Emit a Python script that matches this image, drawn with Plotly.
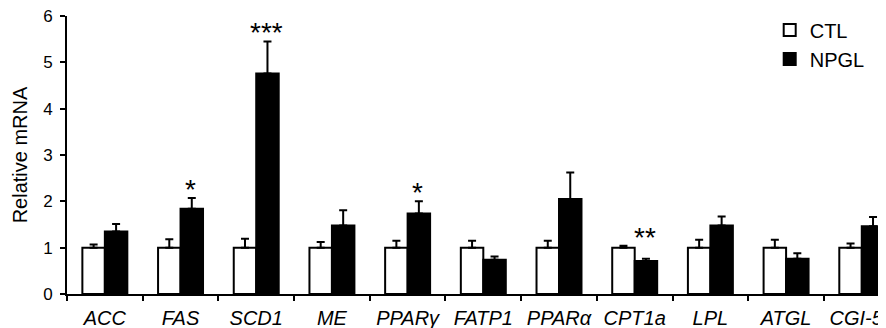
import plotly.graph_objects as go

genes = ["ACC", "FAS", "SCD1", "ME", "PPARγ", "FATP1", "PPARα", "CPT1a", "LPL", "ATGL", "CGI-58"]
ctl = [1.0, 1.0, 1.0, 1.0, 1.0, 1.0, 1.0, 1.0, 1.0, 1.0, 1.0]
ctl_err = [0.07, 0.18, 0.19, 0.12, 0.15, 0.15, 0.15, 0.04, 0.17, 0.17, 0.09]
npgl = [1.35, 1.84, 4.76, 1.48, 1.74, 0.74, 2.05, 0.71, 1.48, 0.76, 1.46]
npgl_err = [0.16, 0.23, 0.69, 0.33, 0.26, 0.07, 0.57, 0.05, 0.19, 0.12, 0.20]
stars = {"FAS": "*", "SCD1": "***", "PPARγ": "*", "CPT1a": "**"}

FONT = "Liberation Sans, Arial, sans-serif"

fig = go.Figure()
fig.add_trace(go.Bar(
    x=genes, y=ctl, name="CTL",
    marker=dict(color="white", line=dict(color="black", width=2)),
    error_y=dict(type="data", array=ctl_err, arrayminus=[0] * len(ctl),
                 symmetric=False, color="black", thickness=2, width=4),
))
fig.add_trace(go.Bar(
    x=genes, y=npgl, name="NPGL",
    marker=dict(color="black", line=dict(color="black", width=2)),
    error_y=dict(type="data", array=npgl_err, arrayminus=[0] * len(npgl),
                 symmetric=False, color="black", thickness=2, width=4),
))

for g, s in stars.items():
    i = genes.index(g)
    top = max(npgl[i] + npgl_err[i], ctl[i] + ctl_err[i])
    fig.add_annotation(x=g, y=top, text=s, showarrow=False,
                       xshift=10, yanchor="bottom", yshift=-9,
                       font=dict(family=FONT, size=28, color="black"))

# page body has an 8px default margin, so the figure is offset by (8, 8)
fig.update_layout(
    width=878, height=320,
    margin=dict(l=59, r=0, t=8, b=34, autoexpand=False),
    paper_bgcolor="white", plot_bgcolor="white",
    barmode="group", bargap=0.406, bargroupgap=0,
    font=dict(family=FONT, size=19, color="black"),
    showlegend=True,
    legend=dict(x=0.858, y=1.02, xanchor="left", yanchor="top",
                font=dict(family=FONT, size=20, color="black"),
                bgcolor="rgba(0,0,0,0)", itemwidth=30, tracegroupgap=0),
    xaxis=dict(
        type="category", range=[-0.5, 10.32], automargin=False,
        showline=True, linecolor="black", linewidth=2,
        ticks="outside", tickson="boundaries", ticklen=5, tickwidth=2, tickcolor="black",
        showgrid=False, zeroline=False, ticklabelstandoff=5,
        tickfont=dict(family=FONT, size=20, color="black", style="italic"),
    ),
    yaxis=dict(
        range=[0, 6], tickvals=[0, 1, 2, 3, 4, 5, 6], automargin=False,
        showline=True, linecolor="black", linewidth=2,
        ticks="outside", ticklen=5, tickwidth=2, tickcolor="black",
        showgrid=False, zeroline=False, ticklabelstandoff=4,
        ticklabeloverflow="allow",
        tickfont=dict(family=FONT, size=17, color="black"),
        title=dict(text="Relative mRNA", font=dict(family=FONT, size=20, color="black"), standoff=10),
    ),
)

fig.write_html("out.html")
